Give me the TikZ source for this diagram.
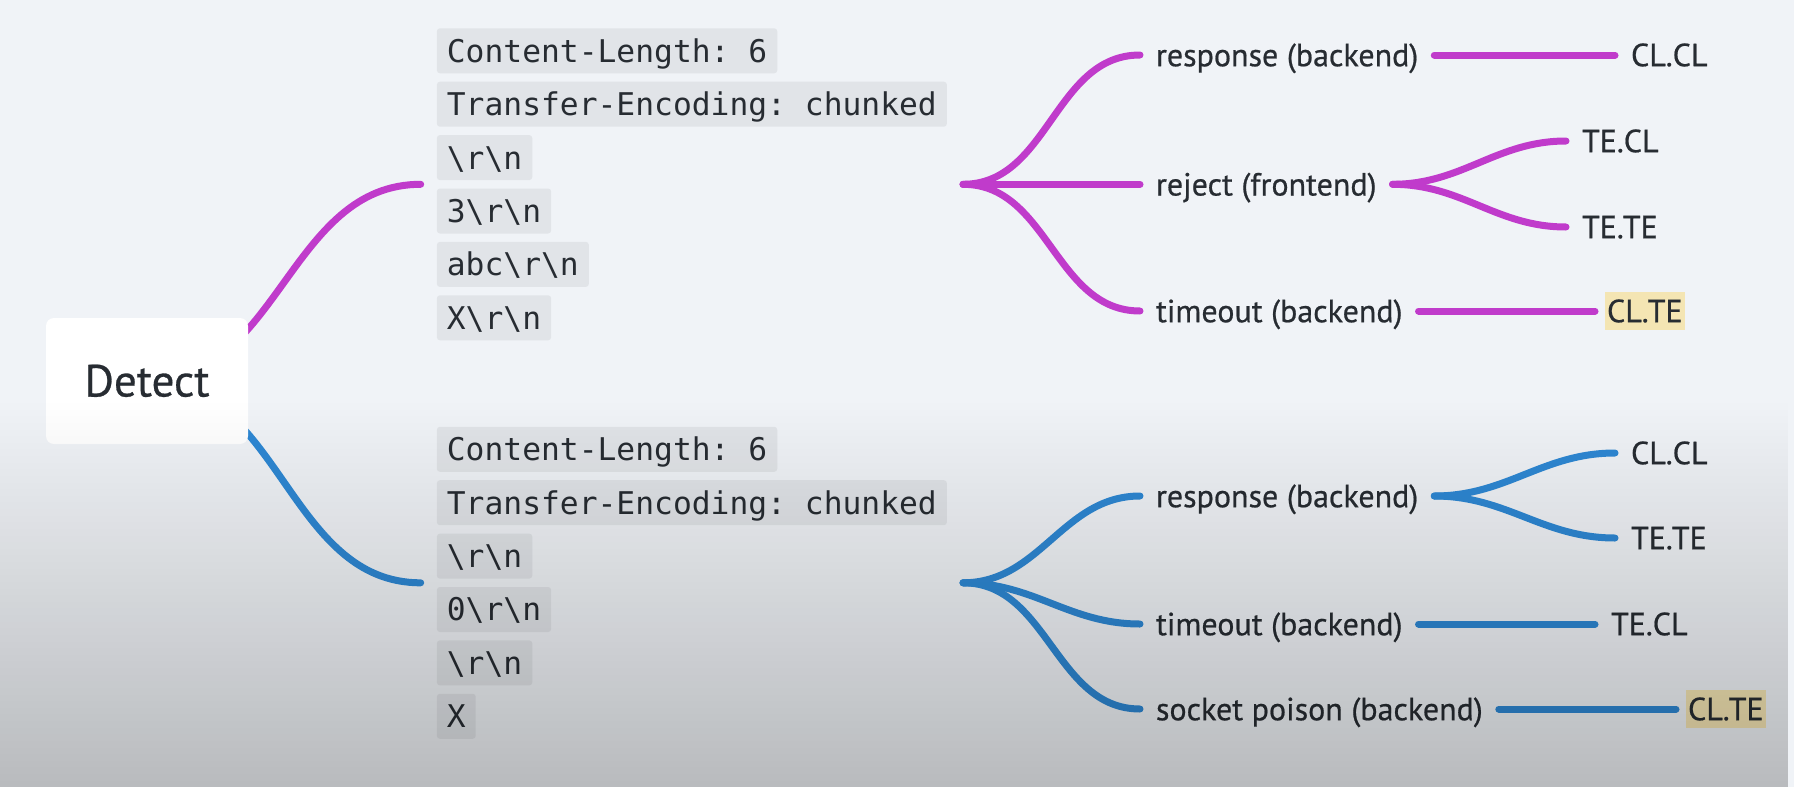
\documentclass[tikz,border=0pt]{standalone}
\usepackage{fontspec}
\setmainfont{PT Sans}[BoldFont=PT Sans, BoldFeatures={FakeBold=0.6}]
\setmonofont{DejaVu Sans Mono}
\usetikzlibrary{fit,fadings}
\definecolor{bgc}{HTML}{F0F3F7}
\definecolor{codefill}{HTML}{E1E4E8}
\definecolor{ink}{HTML}{272C32}
\definecolor{purp}{HTML}{C03BCB}
\definecolor{blu}{HTML}{2E88D4}
\definecolor{hlfill}{HTML}{F4E5B3}
\tikzfading[name=bgfade, top color=transparent!100, bottom color=transparent!77]
\pgfdeclarelayer{bgl}
\pgfdeclarelayer{fgl}
\pgfsetlayers{bgl,main,fgl}
\newcommand{\BSL}{\textbackslash}
\begin{document}
\begin{tikzpicture}[x=1pt,y=-1pt,
  codebox/.style={fill=codefill, rounded corners=3pt, anchor=west, inner xsep=10pt, inner ysep=0pt, minimum height=45pt, text height=22.8pt, text depth=0pt, text=ink, font=\ttfamily\fontsize{31.3}{36}\selectfont},
  lbl/.style={anchor=west, inner sep=0pt, outer xsep=16pt, outer ysep=0pt, text height=22.4pt, text depth=0pt, text=ink, font=\bfseries\fontsize{32}{38}\selectfont},
  hl/.style={lbl, fill=hlfill, inner xsep=2pt, inner ysep=7.5pt, outer xsep=10pt},
  link/.style={line width=7pt, line cap=round},
  pl/.style={link, draw=purp},
  bl/.style={link, draw=blu},
  grp/.style={inner sep=0pt, outer xsep=16pt, outer ysep=0pt},
  detbox/.style={fill=white, rounded corners=8pt, minimum width=202pt, minimum height=126pt, text height=31pt, text depth=0pt, text=ink, font=\bfseries\fontsize{45}{50}\selectfont},
]
\begin{pgfonlayer}{bgl}
\fill[bgc] (0,0) rectangle (1794,787);
\end{pgfonlayer}
\useasboundingbox (0,0) rectangle (1794,787);

% Detect
\node[detbox] (det) at (147,381) {Detect};

% top code group
\node[codebox] (a1) at (436.7,50.8) {Content-Length: 6};
\node[codebox] (a2) at (436.7,104.2) {Transfer-Encoding: chunked};
\node[codebox] (a3) at (436.7,157.6) {\BSL r\BSL n};
\node[codebox] (a4) at (436.7,211) {3\BSL r\BSL n};
\node[codebox] (a5) at (436.7,264.4) {abc\BSL r\BSL n};
\node[codebox] (a6) at (436.7,317.8) {X\BSL r\BSL n};
\node[grp, fit=(a1)(a2)(a6)] (ga) {};

% bottom code group
\node[codebox] (b1c) at (436.7,449.3) {Content-Length: 6};
\node[codebox] (b2c) at (436.7,502.7) {Transfer-Encoding: chunked};
\node[codebox] (b3c) at (436.7,556.1) {\BSL r\BSL n};
\node[codebox] (b4c) at (436.7,609.5) {0\BSL r\BSL n};
\node[codebox] (b5c) at (436.7,662.9) {\BSL r\BSL n};
\node[codebox] (b6c) at (436.7,716.3) {X};
\node[grp, fit=(b1c)(b2c)(b6c)] (gb) {};

% purple branch labels
\node[lbl] (p1) at (1140,55) {response (backend)};
\node[lbl] (p2) at (1140,184.3) {reject (frontend)};
\node[lbl] (p3) at (1140,311) {timeout (backend)};
\node[lbl] (p1l) at (1615,55) {CL.CL};
\node[lbl] (p2a) at (1566,141) {TE.CL};
\node[lbl] (p2b) at (1566,227) {TE.TE};
\node[hl] (p3l) at (1595,311) {CL.TE};

% blue branch labels
\node[lbl] (q1) at (1140,496) {response (backend)};
\node[lbl] (q2) at (1140,624) {timeout (backend)};
\node[lbl] (q3) at (1140,709) {socket poison (backend)};
\node[lbl] (q1a) at (1615,453) {CL.CL};
\node[lbl] (q1b) at (1615,538) {TE.TE};
\node[lbl] (q2l) at (1595,624) {TE.CL};
\node[hl] (q3l) at (1676,709) {CL.TE};

\begin{pgfonlayer}{bgl}
\draw[pl] (det.center) to[out=0,in=180] (ga.west);
\draw[bl] (det.center) to[out=0,in=180] (gb.west);

\draw[pl] (ga.east) to[out=0,in=180] (p1.west);
\draw[pl] (ga.east) -- (p2.west);
\draw[pl] (ga.east) to[out=0,in=180] (p3.west);
\draw[pl] (p1.east) -- (p1l.west);
\draw[pl] (p2.east) to[out=0,in=180] (p2a.west);
\draw[pl] (p2.east) to[out=0,in=180] (p2b.west);
\draw[pl] (p3.east) -- (p3l.west);

\draw[bl] (gb.east) to[out=0,in=180] (q1.west);
\draw[bl] (gb.east) to[out=0,in=180] (q2.west);
\draw[bl] (gb.east) to[out=0,in=180] (q3.west);
\draw[bl] (q1.east) to[out=0,in=180] (q1a.west);
\draw[bl] (q1.east) to[out=0,in=180] (q1b.west);
\draw[bl] (q2.east) -- (q2l.west);
\draw[bl] (q3.east) -- (q3l.west);
\end{pgfonlayer}

\begin{pgfonlayer}{fgl}
\fill[black, path fading=bgfade] (0,400) rectangle (1794,787);
\end{pgfonlayer}
\end{tikzpicture}
\end{document}
